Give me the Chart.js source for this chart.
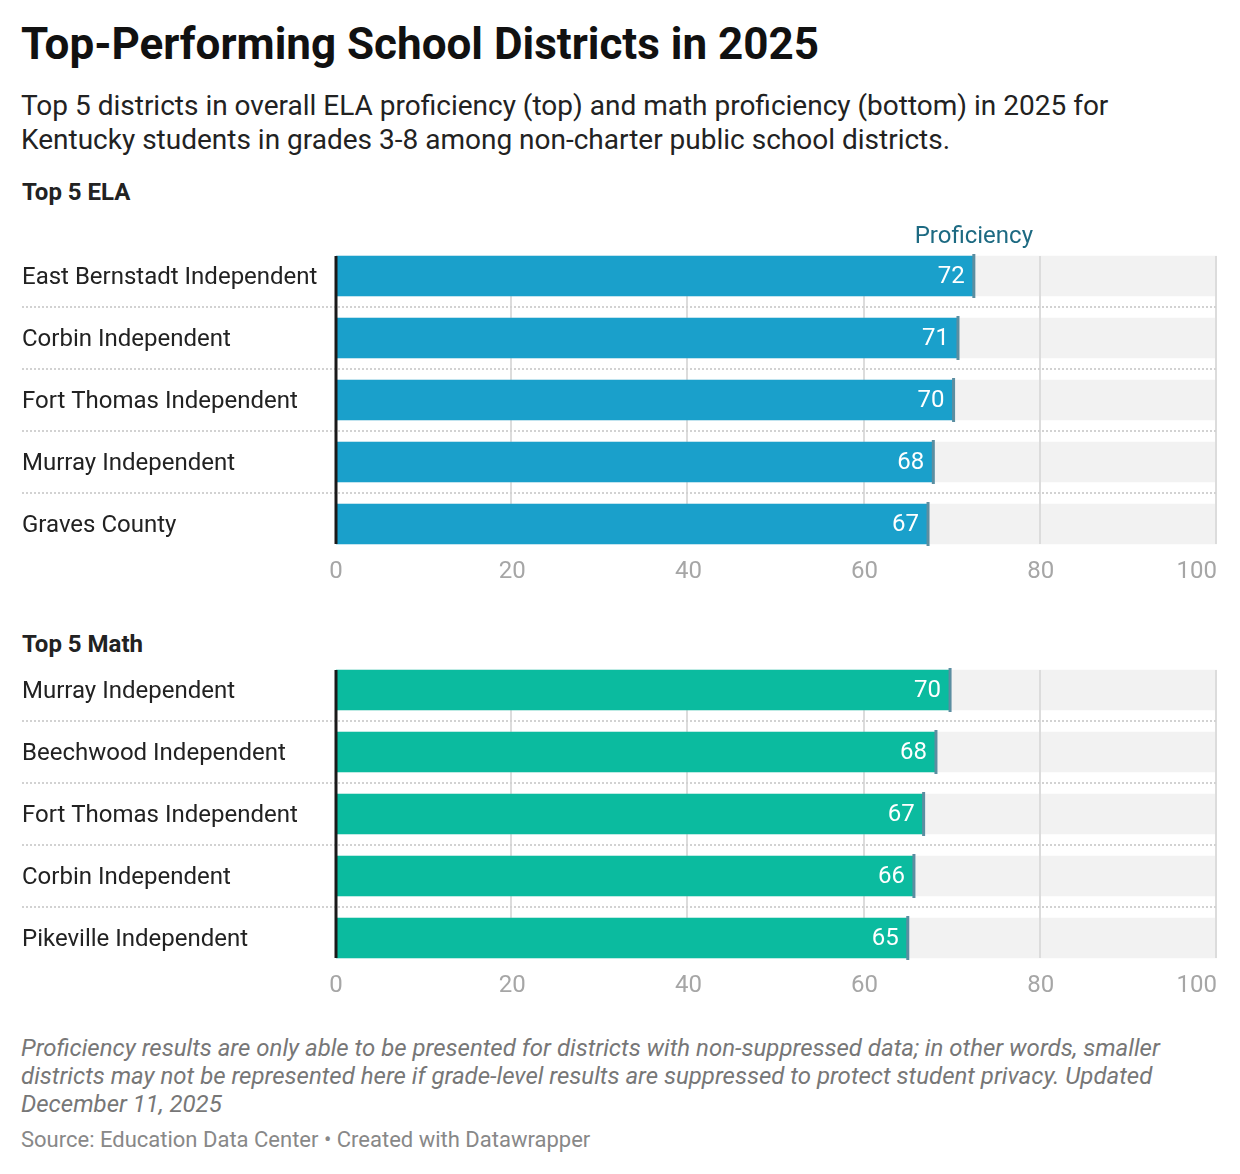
<!DOCTYPE html>
<html>
<head>
<meta charset="utf-8">
<title>Top-Performing School Districts in 2025</title>
<script src="https://cdn.jsdelivr.net/npm/chart.js@4/dist/chart.umd.min.js"></script>
<style>
  body { margin: 0; background: #fff; font-family: Roboto, "Noto Sans", sans-serif; }
  #wrap { position: relative; width: 1240px; height: 1174px; overflow: hidden; }
  .txt { position: absolute; left: 21px; margin: 0; white-space: nowrap; }
  #title { top: 19px; font-size: 44px; line-height: 50px; font-weight: 700; color: #111; }
  #sub { top: 89px; font-size: 28px; line-height: 34px; color: #222; }
  .head { font-size: 24px; line-height: 30px; font-weight: 700; color: #222; left: 22px; }
  #notes { top: 1034px; font-size: 24px; line-height: 28px; font-style: italic; color: #777; }
  #source { top: 1126px; font-size: 22px; line-height: 28px; color: #888; }
  .box { position: absolute; left: 0; width: 1240px; }
</style>
</head>
<body>
<div id="wrap">
  <h1 id="title" class="txt">Top-Performing School Districts in 2025</h1>
  <p id="sub" class="txt">Top 5 districts in overall ELA proficiency (top) and math proficiency (bottom) in 2025 for<br>Kentucky students in grades 3-8 among non-charter public school districts.</p>
  <div class="txt head" style="top:177px">Top 5 ELA</div>
  <div class="box" style="top:210px;height:390px"><canvas id="elaChart"></canvas></div>
  <div class="txt head" style="top:629px">Top 5 Math</div>
  <div class="box" style="top:630px;height:384px"><canvas id="mathChart"></canvas></div>
  <p id="notes" class="txt">Proficiency results are only able to be presented for districts with non-suppressed data; in other words, smaller<br>districts may not be represented here if grade-level results are suppressed to protect student privacy. Updated<br>December 11, 2025</p>
  <p id="source" class="txt">Source: Education Data Center • Created with Datawrapper</p>
</div>

<script>
// Data
const elaDistricts = ['East Bernstadt Independent', 'Corbin Independent', 'Fort Thomas Independent', 'Murray Independent', 'Graves County'];
const elaValues = [72.4, 70.6, 70.1, 67.8, 67.2];

const mathDistricts = ['Murray Independent', 'Beechwood Independent', 'Fort Thomas Independent', 'Corbin Independent', 'Pikeville Independent'];
const mathValues = [69.7, 68.1, 66.7, 65.6, 64.9];

const xTicks = [0, 20, 40, 60, 80, 100];
const xMax = 100;

const FONT = 'Roboto, "Noto Sans", sans-serif';

// Draws gridlines, row separators, end markers, value labels and axis labels
const rowsPlugin = {
    id: 'rows',
    afterDatasetDraw(chart, args, opts) {
        // gridlines go on top of the grey track, under the coloured bar
        if (args.index !== 1) return;
        const { ctx, scales: { x, y } } = chart;
        const n = chart.data.labels.length;
        const top = y.getPixelForValue(0) - 20;
        const bottom = y.getPixelForValue(n - 1) + 20;
        ctx.save();
        ctx.strokeStyle = '#dcdcdc';
        ctx.lineWidth = 2;
        xTicks.forEach(v => {
            if (v === 0) return;
            const px = Math.round(x.getPixelForValue(v)) - 1;
            ctx.beginPath();
            ctx.moveTo(px, top);
            ctx.lineTo(px, bottom);
            ctx.stroke();
        });
        ctx.restore();
    },
    afterDatasetsDraw(chart, args, opts) {
        const { ctx, chartArea: a, scales: { x, y } } = chart;
        const n = chart.data.labels.length;
        const values = chart.data.datasets[0].data;
        const bars = chart.getDatasetMeta(0).data;
        ctx.save();

        // dotted separators between rows
        ctx.strokeStyle = '#d2d2d2';
        ctx.lineWidth = 2;
        ctx.setLineDash([2, 2]);
        for (let i = 0; i < n - 1; i++) {
            const py = Math.round((y.getPixelForValue(i) + y.getPixelForValue(i + 1)) / 2);
            ctx.beginPath();
            ctx.moveTo(22, py);
            ctx.lineTo(a.right, py);
            ctx.stroke();
        }
        ctx.setLineDash([]);

        // zero line
        const x0 = x.getPixelForValue(0);
        ctx.fillStyle = '#1a1a1a';
        ctx.fillRect(x0 - 1.5, y.getPixelForValue(0) - 20, 3, y.getPixelForValue(n - 1) - y.getPixelForValue(0) + 40);

        // end markers + value labels
        bars.forEach((bar, i) => {
            ctx.fillStyle = opts.markerColor;
            ctx.fillRect(bar.x - 1.5, bar.y - 22, 3, 44);
            ctx.fillStyle = '#ffffff';
            ctx.font = '24px ' + FONT;
            ctx.textAlign = 'right';
            ctx.textBaseline = 'middle';
            ctx.fillText(String(Math.round(values[i])), bar.x - 9, bar.y + 1);
        });

        // column header
        if (opts.header) {
            ctx.fillStyle = '#1d6a82';
            ctx.font = '24px ' + FONT;
            ctx.textAlign = 'center';
            ctx.textBaseline = 'middle';
            ctx.fillText(opts.header, bars[0].x, a.top - 8);
        }

        // x tick labels
        ctx.fillStyle = '#a6a6a6';
        ctx.font = '24px ' + FONT;
        ctx.textBaseline = 'middle';
        xTicks.forEach((v, i) => {
            ctx.textAlign = i === xTicks.length - 1 ? 'right' : 'center';
            ctx.fillText(String(v), x.getPixelForValue(v), a.bottom + 17);
        });
        ctx.restore();
    }
};

function makeChart(id, labels, values, color, header, padTop) {
    const ctx = document.getElementById(id).getContext('2d');
    return new Chart(ctx, {
        type: 'bar',
        data: {
            labels: labels,
            datasets: [
                {
                    data: values,
                    backgroundColor: color,
                    barThickness: 40,
                    grouped: false,
                    order: 1
                },
                {
                    data: labels.map(() => xMax),
                    backgroundColor: '#f2f2f2',
                    barThickness: 40,
                    grouped: false,
                    order: 2
                }
            ]
        },
        options: {
            indexAxis: 'y',
            responsive: true,
            maintainAspectRatio: false,
            animation: false,
            layout: { padding: { top: padTop, bottom: 45, left: 22, right: 23 } },
            plugins: {
                legend: { display: false },
                tooltip: { enabled: false },
                rows: { markerColor: '#5b8ea1', header: header }
            },
            scales: {
                x: {
                    display: false,
                    min: 0,
                    max: xMax
                },
                y: {
                    grid: { display: false },
                    border: { display: false },
                    afterFit(scale) { scale.width = 314; },
                    ticks: {
                        crossAlign: 'far',
                        padding: 0,
                        labelOffset: 2,
                        color: '#222',
                        font: { family: FONT, size: 24 }
                    }
                }
            }
        },
        plugins: [rowsPlugin]
    });
}

makeChart('elaChart', elaDistricts, elaValues, '#1aa0cb', 'Proficiency', 35);
makeChart('mathChart', mathDistricts, mathValues, '#0bbb9f', null, 29);
</script>
</body>
</html>
